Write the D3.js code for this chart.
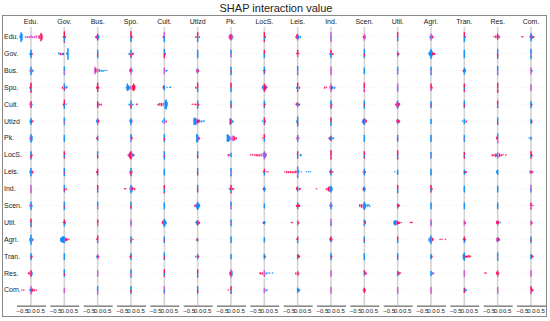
<!DOCTYPE html>
<meta charset="utf-8">
<style>
  body { margin: 0; background: #fff; font-family: "Liberation Sans", Arial, sans-serif; }
  svg text { fill: #222; }
</style>
<body>
<div id="chart"></div>
<script src="https://d3js.org/d3.v7.min.js"></script>
<script>

// feature names (rows and columns share them)
const features = ["Edu.", "Gov.", "Bus.", "Spo.", "Cult.", "Utlzd", "Pk.", "LocS.",
                  "Leis.", "Ind.", "Scen.", "Util.", "Agri.", "Tran.", "Res.", "Com."];

// x ticks of every small panel
const tickValues = [-0.5, 0, 0.5];

// each cell: "<colour><shap value>*<count>" ; b = low feature value, m = middle, p = high
const eduRow = [
  "b-.55*12 b-.5*8 b-.6*3 m-.3*2 m-.2*2 m-.1*2 m0*3 m.1*2 m.2*2 m.3*3 p.45*4 p.55*10 p.6*6",
  "p0*8 b0*6 p.05*2 b-.05*2", "p0*8 m-.05*4 b.05*4 p-.1*2", "p0*7 b0*6 p.05*2",
  "m0*6 b0*6 p-.05*2", "p0*6 b0*6 b.1*2 p-.1*2", "m0*8 p-.05*6 b.05*6 m-.1*3 m.1*2",
  "p0*8 b0*4 p.05*2", "m0*8 p-.05*5 b.05*4 b.15*2 m-.1*2", "m0*10 b0*2",
  "m0*8 m.05*4 p-.05*2", "p0*6 b0*5", "m0*8 m.05*5 p.1*2 b-.05*2", "p0*6 b0*6 b.05*2",
  "p0*7 p-.1*3 p-.2*1 b.1*2 m.05*3", "p-.5*1 p-.45*1 b0*10 p.05*4 p.15*2 b.1*2 m-.05*3"
];
const govRow = [
  "b0*10 p.05*2 b-.05*2", "b.2*14 b.15*3 b-.3*2 m-.25*1 p-.2*2 b-.1*2 p-.05*2",
  "b0*8 p0*2", "b0*6 p0*4 b-.1*2 p.1*2 b.15*1", "b0*6 p0*5 p.05*2", "b0*10",
  "b0*6 m0*3", "p0*5 b0*5", "p0*5 m0*4 p-.05*1 p.05*1", "p0*5 b0*5 p.1*2 b-.05*2",
  "b0*8 p0*3", "b0*6 p.05*2", "b0*12 b-.05*7 b.05*7 b-.1*3 p.1*3 p.15*2 p.2*2",
  "b0*10", "b0*8 p0*4", "b0*10 m0*2"
];
const busRow = [
  "b0*10 m.05*4 b.1*2 m-.05*2", "b0*6 m0*4",
  "m-.15*9 p-.1*5 m0*4 b.1*3 b.2*2 b.3*2 b.4*1 b.5*1", "m0*8 p-.05*3 b.05*3",
  "m0*8 b.1*2 b.15*1", "b0*6 m-.05*4 p.05*2", "b0*8 p0*2", "b0*6 p0*3 b.05*1 b-.05*1",
  "b0*8 m0*3", "m0*10", "b0*8", "b0*6 m0*3", "b0*7 m0*3", "b0*8 b.05*3 p-.05*2",
  "b0*8 m0*3", "m0*8 b.05*2"
];
const spoRow = [
  "p0*8 b0*4 p-.05*2", "b0*6 p-.1*2 b.1*3 b.15*1 p0*3", "p0*8 b0*3 p.05*2 p-.05*2",
  "b-.2*9 b-.15*6 b-.1*4 b-.25*2 p.1*6 p.15*9 p.2*5 m0*4", "b0*6 p-.05*3 b.15*1 b.3*1 b.35*1",
  "p0*6 b0*5 p-.1*2", "p0*6 b0*5", "p0*10 m-.05*6 p.05*6 b-.1*3 p.1*3 b.15*1",
  "p0*8 b0*3 p.1*2 b-.05*2", "p-.35*2 p-.25*1 m0*10 p.05*4 b.2*2 b.1*2 m-.05*3",
  "p0*8 m0*3", "m0*8 b0*2", "p0*5 m0*4 p.05*2", "p0*7 b0*3", "p0*9 m0*3", "m0*8"
];
const cultRow = [
  "p0*8 m-.05*3 b.05*2", "p0*6 b0*5 b.1*1 p-.05*2", "p0*8 p.1*2 p.2*2 m.05*2",
  "b0*6 p0*4 b-.1*2 b.1*2 p.3*1 p.35*1",
  "p-.35*2 p-.25*3 p-.15*4 m-.05*3 b.05*10 b.1*12 b.15*5",
  "p-.3*1 p-.2*1 p-.1*2 b0*8 p.05*2 m0*2", "b0*6 p0*3", "b0*6 p0*3 p.05*1",
  "m0*6 p-.05*3 b.05*2 b-.1*1 p.1*2", "b0*6 p0*4 m.05*2", "b0*8 p0*2",
  "b0*10 m-.05*6 p.05*4 b.1*3 p-.1*2", "b0*6 p0*2", "b0*6 p0*3", "p0*6 b0*3", "b0*6 p0*2 b.05*2"
];
const utlzdRow = [
  "b0*8 p.05*2 b-.05*2 p.1*1", "b0*6 m0*3", "m0*8 b-.05*3 p.05*3", "b0*8 m.05*3 b-.05*3",
  "b0*4 b-.1*2 p.1*2 m0*3",
  "b-.2*8 b-.15*9 b-.1*8 m-.05*6 p0*4 p.05*3 b.1*3 b.2*2 b.3*1 b.35*1",
  "b-.05*8 p0*6 m.05*4 b.1*2", "p0*6 b0*3 p.05*2 b-.1*1", "b0*8 p0*4 b-.05*2", "p0*5 b0*5",
  "p-.05*6 b0*8 m.05*5 p.1*3 b-.1*2", "b0*6 p.05*3 p.1*2 m-.05*3", "b0*6",
  "b0*6 b-.1*1 p.1*2", "b0*6 p0*3", "b0*6 p.05*2"
];
const pkRow = [
  "b0*10 b.05*6 m-.05*4", "b0*8", "b0*6 p-.05*2", "b0*6 p.05*3 m0*3", "b0*6 p0*3",
  "b-.05*10 b0*8 m.05*4 p.1*2",
  "b-.2*9 b-.15*8 b-.1*6 m0*4 m.1*6 m.15*6 p.2*4 p.3*2",
  "p0*5 b0*4 p-.1*1", "b0*8 m.05*3 m-.05*2", "p0*6 b-.05*4 b.1*2 p-.1*2 b.15*1",
  "b0*8", "b0*6 p0*2", "b0*8", "b0*6 m0*2", "b0*6 m0*6 p-.05*3", "b-.1*1 b0*4"
];
const locsRow = [
  "b0*6 p0*4 p.05*2", "p0*6 b0*3", "b0*6 p0*3",
  "p0*10 p-.05*8 m.05*6 p-.1*4 b.1*3 p.15*2 m-.15*2", "b0*8 p0*2", "b0*6 p0*3",
  "b0*5 p-.15*2 p-.1*1",
  "p-.75*1 p-.65*1 p-.55*1 p-.45*2 p-.35*2 p-.25*2 m-.15*3 m-.05*5 m0*10 b.05*6 m.1*3",
  "p0*6 b0*3 b.15*2 b.2*1", "p0*8 m0*3", "p0*6 b0*3", "p0*8 b0*3", "b0*6 m0*2", "p0*6 b0*2",
  "p-.3*2 p-.2*2 p-.1*4 m0*8 p.1*4 p.2*2 p.3*1 p.45*1 b-.05*2", "p0*6 b0*3 p.05*2"
];
const leisRow = [
  "b0*10 m.05*4 p.1*2 b-.05*3", "b0*8 p0*2", "p0*5 p-.05*2 b0*3", "b0*6 p0*4 m.05*3 p-.05*2",
  "b0*8", "b0*6 p0*3", "b0*8 m0*2", "p0*4 b0*4 p.1*1 p.2*1 p-.05*1",
  "p-.7*1 p-.6*2 p-.5*2 p-.4*2 p-.3*2 p-.2*2 p-.1*3 b0*10 m0*4 b.05*3 b.2*1 b.5*1 b.6*1 b.7*1",
  "b0*8 p-.05*3 b.05*2 p.1*1", "b0*8 p.05*2 m-.05*2", "b0*6 b-.15*1", "b0*8",
  "b0*6 p.05*2 p.1*2", "b0*6 b-.05*3", "m-.05*3 m0*4 p.05*2 p.1*1"
];
const indRow = [
  "m0*10", "b0*6 p0*3 p.1*2", "p0*6 b0*3",
  "p-.35*1 p-.3*1 b0*10 b.05*6 p.1*3 p.2*2 m-.05*3", "p0*6 b0*4", "b0*6 p0*3",
  "p0*6 b0*4 p-.05*2 p.1*2 p.15*1 b-.1*1", "b0*6 p-.05*2 b.05*2", "b0*6 p-.05*3 p.1*2 p.15*1",
  "p-.8*1 p-.25*2 p-.15*4 p-.1*6 m-.05*6 b0*8 b.05*4", "p-.05*4 b0*6 m.05*2", "p0*5 b0*5",
  "p0*6 b0*3 p.05*2", "b0*8", "b0*8", "m0*6 b0*3"
];
const scenRow = [
  "b0*10 m-.05*3 b.05*2", "b0*8 p0*2", "b0*6 m0*3", "b0*6 p0*3", "b0*8",
  "b0*10 b-.05*6 b.05*6 m-.1*3 b.1*3 p-.15*2", "b0*6 m0*3", "b0*6",
  "b0*8 p.05*3 p.1*2 p-.05*2", "b0*8 m-.05*3 b.05*2",
  "p-.25*3 p-.15*4 m-.05*6 b0*10 b.05*6 b.15*3 b.25*2 b.3*1",
  "b0*6 p.05*3 p.1*1", "b0*8", "b0*8", "b0*8", "p0*5 m0*3 p.1*1"
];
const utilRow = [
  "p0*6 b0*4", "p0*4 b0*4 p.05*2 p-.05*1", "p0*4 m0*4", "m0*6 b0*2",
  "b0*10 m-.05*6 b.05*6 p-.1*3 b.1*2", "p0*6 b-.05*4 m.05*4 p.1*2 p-.1*1", "b0*6 m0*2",
  "b0*4 p-.05*2 b.05*1", "p-.35*1 p-.3*1 m0*6 p.05*2", "m0*6 b0*3", "b0*6 p.05*3 m0*2",
  "b-.2*4 b-.15*6 b-.1*6 m-.05*4 p0*4 p.05*2 p.1*2 p.2*1 p.7*1 p.75*1 p.8*1",
  "m0*6 b0*2", "m0*6 p.05*2", "m0*6 p-.05*3 p.05*3 b.15*1", "m0*6 p.05*2"
];
const agriRow = [
  "b0*12 b-.05*4 m.05*4 b.1*2",
  "b-.2*4 b-.15*6 b-.1*7 b-.05*8 b0*8 m.05*4 p.1*3 p.15*2 p.25*1",
  "p0*6 b0*3 p-.05*1", "b0*6 p0*2 p.1*1", "b0*6 p0*2", "p-.05*2 b0*4", "b0*8", "b0*6",
  "p0*4 p-.05*1 b0*4", "p-.05*3 p0*4 b0*3 p.05*2", "b0*6 p0*2", "p0*4 b0*4",
  "b-.1*4 m-.05*6 b0*10 m.05*4 p.1*3 p.5*1 p.6*1 p.8*1",
  "p0*4 b0*4 p.05*2 p-.05*1", "b0*6 m-.05*4 p.05*3 b.1*2", "b0*6 p0*2"
];
const tranRow = [
  "b0*6 p.05*2 p0*2", "b0*8", "m0*6 p.05*2 b-.05*2", "b0*6 p-.05*2 p0*2", "b0*6 p0*3",
  "b0*6 b-.1*2 p.05*2", "b0*6", "b0*6 p.05*2", "b0*6 p.05*3 p.1*2", "b0*6 p0*2 p.05*1",
  "b0*8", "b0*6 p0*2", "b0*6 p.05*2",
  "b-.05*6 b0*10 p.05*2 p.1*2 p.15*2 p.2*2 p.25*2 p.3*1 p.35*1",
  "b0*8 m0*2", "b0*6 p.05*3 p.1*2"
];
const resRow = [
  "p0*8 p-.1*2 p-.15*1 b.05*4 m-.05*3", "b0*6 p0*3", "m0*8", "b0*6 m0*4", "p0*6 b0*3",
  "p0*6 b0*4", "m0*10 b.05*6 p-.05*4",
  "p-.25*1 p-.2*2 p-.1*2 m0*8 b.1*2 b.2*1 b.3*1 b.45*1",
  "p-.1*2 m0*6 p.05*2", "m0*8", "p0*4 b.05*3 p.1*2 m0*3", "b0*6 p.05*3 b.1*2 p.15*1",
  "b0*6 b.1*2 b.15*1 m.05*2", "m0*8", "p-.7*1 p-.65*1 m0*8 p-.05*3 p.05*2", "m0*8"
];
const comRow = [
  "p-.5*1 p-.4*1 m0*10 p.05*4 p.1*3 p.2*2 p.3*1 b-.05*3", "m0*6", "b0*6 m0*4", "b0*6 p0*3",
  "m0*6 b0*3", "b0*6 p0*3", "p0*6 p-.15*1 b0*3", "m0*6 b.1*2 b.15*1",
  "b0*6 b.05*3 b.1*2", "m0*8", "p0*6 m-.05*3 p.05*2", "m0*8", "m0*8",
  "p0*6 b.05*3 b.1*2", "m0*8", "p0*6 p.05*3 p.1*2 m0*3"
];

const rows = [eduRow, govRow, busRow, spoRow, cultRow, utlzdRow, pkRow, locsRow,
              leisRow, indRow, scenRow, utilRow, agriRow, tranRow, resRow, comRow];

const width = 550, height = 321;
const colorLevel = { b: 0, m: 0.5, p: 1 };
const color = d3.scaleSequential(d3.interpolateHcl("#008bfb", "#ff0052")).domain([0, 1]);

const svg = d3.select("#chart").append("svg")
  .attr("width", width)
  .attr("height", height);

// outer frame
svg.append("rect")
  .attr("x", 2.5).attr("y", 15.5)
  .attr("width", 544).attr("height", 301)
  .attr("fill", "none")
  .attr("stroke", "#8a8a8a")
  .attr("stroke-width", 1);

svg.append("text")
  .attr("x", 276).attr("y", 11.5)
  .attr("text-anchor", "middle")
  .style("font-size", "11px")
  .text("SHAP interaction value");

const col = d3.scalePoint().domain(features).range([31, 531]);
const row = d3.scalePoint().domain(features).range([36.7, 290]);
const halfW = 14.5;
const axisY = 305.7;

// column headers and row labels
svg.selectAll("text.colhead").data(features).join("text")
  .attr("class", "colhead")
  .attr("x", d => col(d)).attr("y", 23.5)
  .attr("text-anchor", "middle")
  .style("font-size", "7px")
  .text(d => d);

svg.selectAll("text.rowhead").data(features).join("text")
  .attr("class", "rowhead")
  .attr("x", 4).attr("y", d => row(d))
  .attr("dy", "0.35em")
  .style("font-size", "7px")
  .text(d => d);

// parse "b-.05*3" tokens
function parseCell(str) {
  return str.trim().split(/\s+/).map((tok, ti) => {
    const c = tok[0];
    const [v, n] = tok.slice(1).split("*");
    return { c: colorLevel[c], v: +v, n: +n, ti };
  });
}

features.forEach((cf, j) => {
  const cx = col(cf);
  const x = d3.scaleLinear().domain([-0.8, 0.8]).range([cx - halfW, cx + halfW]);

  // zero line
  svg.append("line")
    .attr("x1", x(0)).attr("x2", x(0))
    .attr("y1", 27).attr("y2", axisY)
    .attr("stroke", "#d4d4d4")
    .attr("stroke-width", 1.6);

  // faint row guides
  features.forEach(rf => {
    svg.append("line")
      .attr("x1", cx - halfW).attr("x2", cx + halfW)
      .attr("y1", row(rf)).attr("y2", row(rf))
      .attr("stroke", "#ececec")
      .attr("stroke-width", 0.5)
      .attr("stroke-dasharray", "2,1");
  });

  // bottom axis
  const ax = svg.append("g")
    .attr("transform", `translate(0,${axisY})`)
    .call(d3.axisBottom(x).tickValues(tickValues).tickSize(0).tickPadding(3)
      .tickFormat(d3.format(".1f")));
  ax.select(".domain").attr("stroke", "#8a8a8a").attr("stroke-width", 1.6);
  ax.selectAll("text")
    .style("font-size", "6px")
    .style("font-family", "Liberation Sans, Arial, sans-serif")
    .attr("fill", "#333");
});

// beeswarm dots
const step = 0.8, cap = 7;
rows.forEach((cells, i) => {
  const cy = row(features[i]);
  cells.forEach((str, j) => {
    const cx = col(features[j]);
    const x = d3.scaleLinear().domain([-0.8, 0.8]).range([cx - halfW, cx + halfW]);
    const groups = parseCell(str);
    // bin by pixel column, then interleave tokens within each bin
    const bins = d3.group(groups, g => Math.round(x(g.v) - cx));
    const pts = [];
    bins.forEach(gs => {
      const queues = gs.map(g => ({ g, left: g.n }));
      let k = 0;
      let more = true;
      while (more) {
        more = false;
        queues.forEach(q => {
          if (q.left > 0) {
            q.left--;
            more = true;
            const off = k === 0 ? 0 : (k % 2 ? 1 : -1) * Math.ceil(k / 2) * step;
            pts.push({ v: q.g.v, c: q.g.c, dy: Math.max(-cap, Math.min(cap, off)) });
            k++;
          }
        });
      }
    });
    svg.append("g").selectAll("circle").data(pts).join("circle")
      .attr("cx", d => x(d.v))
      .attr("cy", d => cy + d.dy)
      .attr("r", 0.8)
      .attr("fill", d => color(d.c))
      .attr("fill-opacity", 0.8);
  });
});
</script>
</body>
